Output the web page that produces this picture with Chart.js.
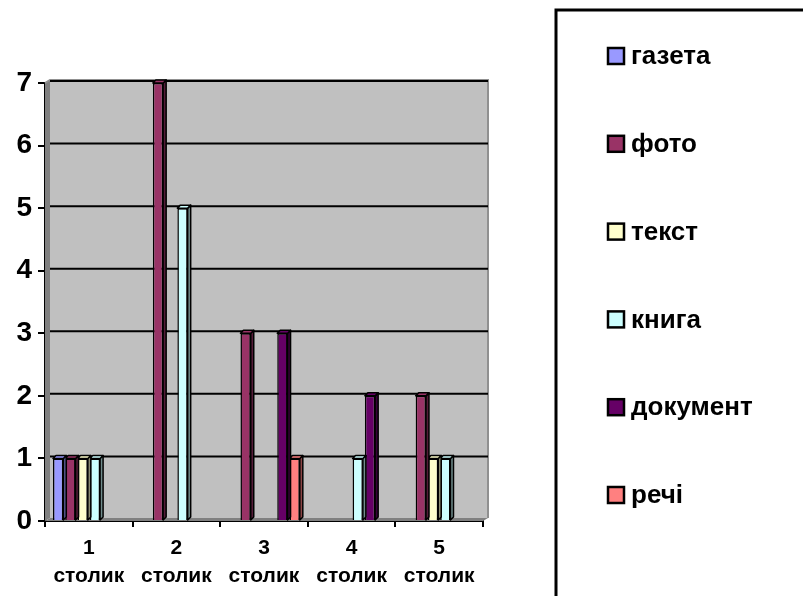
<!DOCTYPE html>
<html>
<head>
<meta charset="utf-8">
<script src="https://cdn.jsdelivr.net/npm/chart.js@4.4.0/dist/chart.umd.min.js"></script>
<style>
  html, body { margin: 0; padding: 0; background: #ffffff; }
  canvas { display: block; }
</style>
</head>
<body>
<canvas id="myChart" width="803" height="596"></canvas>
<script>
// Chart data
const categories = [['1', 'столик'], ['2', 'столик'], ['3', 'столик'], ['4', 'столик'], ['5', 'столик']];
const gazeta   = [1, 0, 0, 0, 0];
const foto     = [1, 7, 3, 0, 2];
const tekst    = [1, 0, 0, 0, 1];
const knyha    = [1, 5, 0, 1, 1];
const dokument = [0, 0, 3, 2, 0];
const rechi    = [0, 0, 1, 0, 0];
const yTicks   = [0, 1, 2, 3, 4, 5, 6, 7];

const seriesNames  = ['газета', 'фото', 'текст', 'книга', 'документ', 'речі'];
const seriesData   = [gazeta, foto, tekst, knyha, dokument, rechi];
const seriesColors = ['#9999FF', '#993366', '#FFFFCC', '#CCFFFF', '#660066', '#FF8080'];

const FONT = "'Liberation Sans', Arial, sans-serif";

// darker shade for the side of a bar
function shade(hex, f) {
  const n = parseInt(hex.slice(1), 16);
  const r = Math.round(((n >> 16) & 255) * f);
  const g = Math.round(((n >> 8) & 255) * f);
  const b = Math.round((n & 255) * f);
  return 'rgb(' + r + ',' + g + ',' + b + ')';
}

// grey back wall, side wall, floor and gridlines
const wallPlugin = {
  id: 'wall',
  beforeDatasetsDraw(chart) {
    const ctx = chart.ctx;
    const a = chart.chartArea;
    const y = chart.scales.y;
    const dx = 5, dy = 3;
    ctx.save();
    ctx.fillStyle = '#c0c0c0';
    ctx.fillRect(a.left + dx, a.top - dy, a.right - a.left, a.bottom - a.top);
    ctx.fillStyle = '#808080';
    ctx.beginPath();
    ctx.moveTo(a.left, a.top);
    ctx.lineTo(a.left + dx, a.top - dy);
    ctx.lineTo(a.left + dx, a.bottom - dy);
    ctx.lineTo(a.left, a.bottom);
    ctx.closePath();
    ctx.fill();
    ctx.beginPath();
    ctx.moveTo(a.left, a.bottom);
    ctx.lineTo(a.left + dx, a.bottom - dy);
    ctx.lineTo(a.right + dx, a.bottom - dy);
    ctx.lineTo(a.right, a.bottom);
    ctx.closePath();
    ctx.fill();
    // top edge of the wall
    ctx.strokeStyle = '#909090';
    ctx.lineWidth = 2;
    ctx.beginPath();
    ctx.moveTo(a.left, a.top);
    ctx.lineTo(a.left + dx, a.top - dy);
    ctx.lineTo(a.right + dx, a.top - dy);
    ctx.lineTo(a.right + dx, a.bottom - dy);
    ctx.stroke();
    // gridlines on the back wall
    ctx.strokeStyle = '#000000';
    ctx.lineWidth = 2;
    y.ticks.forEach(function(t) {
      if (t.value === 0) return;
      const py = y.getPixelForValue(t.value) - 2;
      ctx.beginPath();
      ctx.moveTo(a.left + dx, py);
      ctx.lineTo(a.right + dx, py);
      ctx.stroke();
    });
    ctx.restore();
  }
};

// side and top faces of each bar
const bar3dPlugin = {
  id: 'bar3d',
  afterDatasetDraw(chart, args) {
    const ctx = chart.ctx;
    const meta = args.meta;
    const color = seriesColors[args.index];
    const d = 3;
    ctx.save();
    ctx.lineWidth = 1.5;
    ctx.strokeStyle = '#000000';
    ctx.lineJoin = 'round';
    meta.data.forEach(function(bar) {
      const p = bar.getProps(['x', 'y', 'base', 'width'], true);
      if (Math.abs(p.base - p.y) < 0.5) return;
      const l = p.x - p.width / 2, r = p.x + p.width / 2;
      // side
      ctx.fillStyle = shade(color, 0.55);
      ctx.beginPath();
      ctx.moveTo(r, p.y);
      ctx.lineTo(r + d, p.y - d);
      ctx.lineTo(r + d, p.base - d);
      ctx.lineTo(r, p.base);
      ctx.closePath();
      ctx.fill();
      ctx.stroke();
      // top
      ctx.fillStyle = color;
      ctx.beginPath();
      ctx.moveTo(l, p.y);
      ctx.lineTo(l + d, p.y - d);
      ctx.lineTo(r + d, p.y - d);
      ctx.lineTo(r, p.y);
      ctx.closePath();
      ctx.fill();
      ctx.stroke();
    });
    ctx.restore();
  }
};

// legend in a framed box at the right
const legendBoxPlugin = {
  id: 'legendBox',
  afterDraw(chart) {
    const ctx = chart.ctx;
    ctx.save();
    ctx.strokeStyle = '#000000';
    ctx.lineWidth = 3;
    ctx.strokeRect(556, 10, 300, 620);
    ctx.font = 'bold 26px ' + FONT;
    ctx.textBaseline = 'middle';
    chart.data.datasets.forEach(function(ds, i) {
      const cy = 56 + i * 87.8;
      ctx.fillStyle = ds.backgroundColor;
      ctx.fillRect(608, cy - 8, 16, 16);
      ctx.lineWidth = 2.5;
      ctx.strokeRect(608, cy - 8, 16, 16);
      ctx.fillStyle = '#000000';
      ctx.fillText(ds.label, 631, cy + 1);
    });
    ctx.restore();
  }
};

const datasets = seriesNames.map(function(name, i) {
  return {
    label: name,
    data: seriesData[i],
    backgroundColor: seriesColors[i],
    borderColor: '#000000',
    borderWidth: 1.5,
    barPercentage: 0.84,
    categoryPercentage: 0.84
  };
});

const ctx = document.getElementById('myChart').getContext('2d');

// Create the chart
var myChart = new Chart(ctx, {
  type: 'bar',
  data: {
    labels: categories,
    datasets: datasets
  },
  options: {
    responsive: false,
    animation: false,
    devicePixelRatio: 1,
    layout: {
      padding: { left: 0, top: 83, right: 320, bottom: 0 }
    },
    plugins: {
      legend: { display: false },
      tooltip: { enabled: false }
    },
    scales: {
      x: {
        grid: {
          drawOnChartArea: false,
          color: '#000000',
          lineWidth: 2,
          tickLength: 6
        },
        border: { color: '#000000', width: 2 },
        ticks: {
          color: '#000000',
          padding: 7,
          maxRotation: 0,
          font: { family: FONT, size: 21, weight: 'bold', lineHeight: 1.35 }
        },
        afterFit: function(scale) { scale.height = 75; }
      },
      y: {
        min: 0,
        max: 7,
        afterBuildTicks: function(scale) {
          scale.ticks = yTicks.map(function(v) { return { value: v }; });
        },
        grid: {
          drawOnChartArea: false,
          color: '#000000',
          lineWidth: 2,
          tickLength: 7
        },
        border: { color: '#000000', width: 2 },
        ticks: {
          color: '#000000',
          padding: 6,
          font: { family: FONT, size: 28, weight: 'bold' }
        },
        afterFit: function(scale) { scale.width = 45; }
      }
    }
  },
  plugins: [wallPlugin, bar3dPlugin, legendBoxPlugin]
});
</script>
</body>
</html>
